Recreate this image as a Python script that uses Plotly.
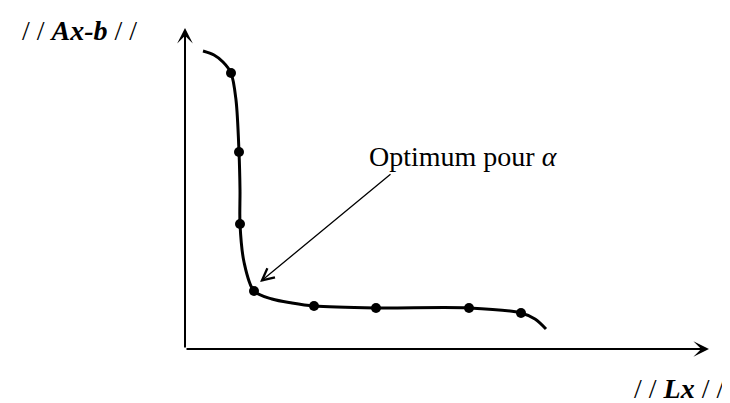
import plotly.graph_objects as go

# L-curve (units: ||Lx|| horizontally, ||Ax-b|| vertically, arbitrary)
curve_x = [18, 29, 38, 46, 51, 54, 55, 55, 59, 69, 87, 107, 129, 191, 284, 336, 350, 361]
curve_y = [298, 294, 287, 276, 249, 197, 159, 125, 87, 58, 50, 46, 43, 41, 41, 36, 30, 20]

# sampled alpha values (dots)
dots_x = [46, 54, 55, 69, 129, 191, 284, 336]
dots_y = [276, 197, 125, 58, 43, 41, 41, 36]

# axis extents
x_axis_end = 524
y_axis_end = 321

# optimum point and label anchor
opt_x, opt_y = 75, 67
label_tail_x, label_tail_y = 207, 176

y_label = "/ / <b><i>Ax-b</i></b> / /"
x_label = "/ / <b><i>Lx</i></b> / /"
opt_label = "Optimum pour <i>α</i>"

FONT = "Liberation Serif"

fig = go.Figure()
fig.add_trace(go.Scatter(
    x=curve_x, y=curve_y, mode="lines",
    line=dict(color="black", width=3, shape="spline", smoothing=0.9),
    hoverinfo="skip", showlegend=False,
))
fig.add_trace(go.Scatter(
    x=dots_x, y=dots_y, mode="markers",
    marker=dict(color="black", size=10),
    showlegend=False,
))

annotations = [
    # y axis arrow
    dict(x=0, y=y_axis_end, ax=0, ay=0, xref="x", yref="y", axref="x", ayref="y",
         text="", showarrow=True, arrowhead=3, arrowwidth=2, arrowsize=1.3,
         arrowcolor="black", standoff=0),
    # x axis arrow
    dict(x=x_axis_end, y=0, ax=0, ay=0, xref="x", yref="y", axref="x", ayref="y",
         text="", showarrow=True, arrowhead=3, arrowwidth=2, arrowsize=1.3,
         arrowcolor="black", standoff=0),
    # optimum pointer
    dict(x=opt_x, y=opt_y, ax=label_tail_x, ay=label_tail_y, xref="x", yref="y",
         axref="x", ayref="y", text="", showarrow=True, arrowhead=5,
         arrowwidth=1.3, arrowsize=1.8, arrowcolor="black", standoff=0),
    dict(x=278, y=193, xref="x", yref="y", text=opt_label, showarrow=False,
         font=dict(family=FONT, size=28, color="black"), xanchor="center", yanchor="middle"),
    dict(x=-106, y=319, xref="x", yref="y", text=y_label, showarrow=False,
         font=dict(family=FONT, size=28, color="black"), xanchor="center", yanchor="middle"),
    dict(x=541, y=-39, xref="x", yref="y", text=x_label, showarrow=False,
         font=dict(family=FONT, size=28, color="black"), xanchor="right", yanchor="middle"),
]

# page has an 8px body margin, so the figure is 722x395 and ranges are shifted
fig.update_layout(
    width=722, height=395,
    margin=dict(l=0, r=0, t=0, b=0),
    paper_bgcolor="white", plot_bgcolor="white",
    xaxis=dict(range=[-177, 545], visible=False, fixedrange=True),
    yaxis=dict(range=[-54, 341], visible=False, fixedrange=True),
    annotations=annotations,
    showlegend=False,
)

fig.write_html("out.html")
